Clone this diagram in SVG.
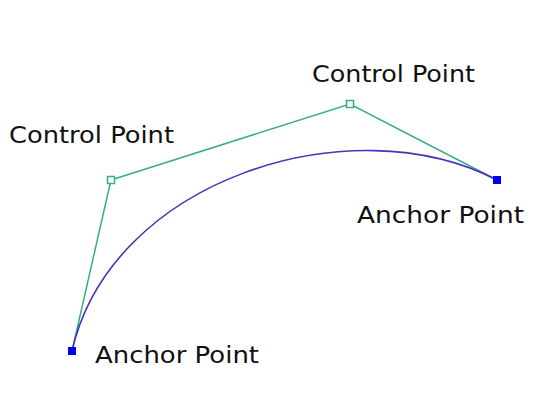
<svg xmlns="http://www.w3.org/2000/svg" width="538" height="396" viewBox="0 0 538 396">
<style>
.lbl{font-family:"DejaVu Sans","Liberation Sans",sans-serif;font-size:23px;fill:#111}
.handle{fill:none;stroke:#3aaa8c;stroke-width:1.5}
.curve{fill:none;stroke:#4433bb;stroke-width:1.6}
.ctrl{fill:#fff;stroke:#3aaa8c;stroke-width:1.5}
.anchor{fill:#0000ee}
</style>
<rect width="538" height="396" fill="#fff"/>
<g id="connectors">
<polyline class="handle" points="72,351 111,180"/>
<polyline class="handle" points="111,180 350,104 497,180"/>
<path class="curve" d="M72,351 C111,180 350,104 497,180"/>
</g>
<g id="anchor1">
<rect class="anchor" x="68" y="347" width="8" height="8"/>
<text class="lbl" x="95" y="363" textLength="164" lengthAdjust="spacingAndGlyphs">Anchor Point</text>
</g>
<g id="control1">
<rect class="ctrl" x="107.5" y="176.5" width="7" height="7"/>
<text class="lbl" x="9" y="143" textLength="165" lengthAdjust="spacingAndGlyphs">Control Point</text>
</g>
<g id="control2">
<rect class="ctrl" x="346.5" y="100.5" width="7" height="7"/>
<text class="lbl" x="312" y="82" textLength="163" lengthAdjust="spacingAndGlyphs">Control Point</text>
</g>
<g id="anchor2">
<rect class="anchor" x="493" y="176" width="8" height="8"/>
<text class="lbl" x="357" y="223" textLength="167" lengthAdjust="spacingAndGlyphs">Anchor Point</text>
</g>
</svg>
